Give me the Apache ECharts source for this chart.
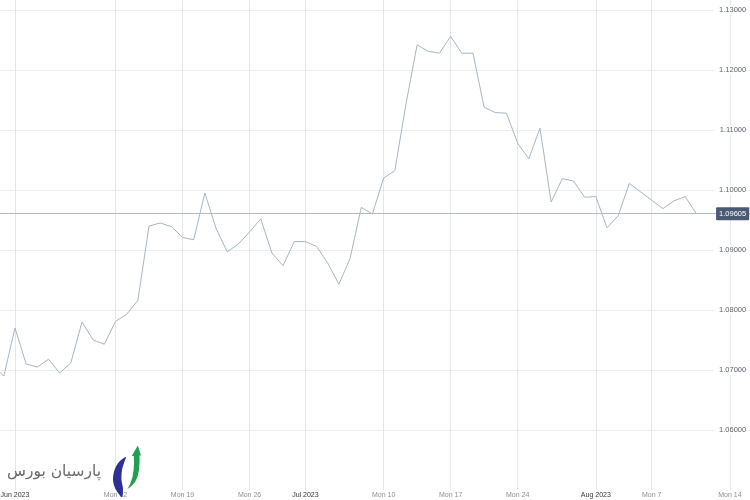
<!DOCTYPE html>
<html><head><meta charset="utf-8">
<script src="https://cdn.jsdelivr.net/npm/echarts@6/dist/echarts.min.js"></script>
<style>html,body{margin:0;padding:0;background:#fff}#c{width:750px;height:500px}</style>
</head><body><div id="c"></div>
<script>
// Trading sessions (Sun–Fri), then calendar days after the last quote
const dates = ['2023-05-30','2023-05-31','2023-06-01','2023-06-02','2023-06-04','2023-06-05','2023-06-06','2023-06-07','2023-06-08','2023-06-09','2023-06-11','2023-06-12','2023-06-13','2023-06-14','2023-06-15','2023-06-16','2023-06-18','2023-06-19','2023-06-20','2023-06-21','2023-06-22','2023-06-23','2023-06-25','2023-06-26','2023-06-27','2023-06-28','2023-06-29','2023-06-30','2023-07-02','2023-07-03','2023-07-04','2023-07-05','2023-07-06','2023-07-07','2023-07-09','2023-07-10','2023-07-11','2023-07-12','2023-07-13','2023-07-14','2023-07-16','2023-07-17','2023-07-18','2023-07-19','2023-07-20','2023-07-21','2023-07-23','2023-07-24','2023-07-25','2023-07-26','2023-07-27','2023-07-28','2023-07-30','2023-07-31','2023-08-01','2023-08-02','2023-08-03','2023-08-04','2023-08-06','2023-08-07','2023-08-08','2023-08-09','2023-08-10','2023-08-11','2023-08-12','2023-08-13','2023-08-14','2023-08-15','2023-08-16'];
const prices = [1.0707,1.0690,1.0770,1.0710,1.0705,1.0718,1.0695,1.0712,1.0780,1.0750,
  1.0743,1.0781,1.0793,1.0816,1.0940,1.0945,1.0939,1.0921,1.0917,1.0995,
  1.0936,1.0897,1.0910,1.0930,1.0952,1.0895,1.0874,1.0914,1.0914,1.0906,
  1.0878,1.0843,1.0886,1.0971,1.0960,1.1020,1.1032,1.1143,1.1242,1.1231,
  1.1228,1.1256,1.1228,1.1228,1.1138,1.1129,1.1128,1.1078,1.1052,1.1103,
  1.0980,1.1019,1.1015,1.0988,1.0989,1.0937,1.0957,1.1011,1.0997,1.0983,
  1.0969,1.0982,1.0989,1.09605];
const currentPrice = 1.09605;
const tickDates  = ['2023-06-01','2023-06-12','2023-06-19','2023-06-26','2023-07-02','2023-07-10','2023-07-17','2023-07-24','2023-08-01','2023-08-07','2023-08-14'];
const tickLabels = ['Jun 2023','Mon 12','Mon 19','Mon 26','Jul 2023','Mon 10','Mon 17','Mon 24','Aug 2023','Mon 7','Mon 14'];
const monthTicks = ['Jun 2023','Jul 2023','Aug 2023'];
const yMin = 1.05, yMax = 1.131667, yStep = 0.01;

const labelOf = {};
tickDates.forEach((d, i) => { labelOf[d] = tickLabels[i]; });
const isTick = (idx, val) => labelOf[val] !== undefined;
const FONT = 'Liberation Sans, Arial, sans-serif';

const chart = echarts.init(document.getElementById('c'), null, {renderer: 'canvas'});
chart.setOption({
  animation: false,
  backgroundColor: '#ffffff',
  grid: {left: -7.34, right: -2.2, top: 0, bottom: 10, containLabel: false, outerBoundsMode: 'none'},
  xAxis: {
    type: 'category',
    data: dates,
    boundaryGap: false,
    axisLine: {show: false},
    axisTick: {show: false},
    splitLine: {show: true, interval: isTick, lineStyle: {color: '#e4e7ea', width: 1}},
    axisLabel: {
      interval: isTick,
      margin: 2,
      fontFamily: FONT,
      fontSize: 7,
      formatter: v => {
        const t = labelOf[v];
        if (!t) return '';
        return monthTicks.includes(t) ? '{m|' + t + '}' : '{w|' + t + '}';
      },
      rich: {
        m: {color: '#2f3640', fontSize: 7, fontFamily: FONT},
        w: {color: '#8a8f96', fontSize: 7, fontFamily: FONT}
      }
    }
  },
  yAxis: {
    type: 'value',
    position: 'right',
    min: yMin, max: yMax, interval: yStep,
    axisLine: {show: false},
    axisTick: {show: false},
    splitLine: {show: true, showMinLine: false, showMaxLine: false, lineStyle: {color: '#eceef1', width: 1}},
    axisLabel: {
      inside: true,
      margin: 4,
      showMinLabel: false,
      showMaxLabel: false,
      color: '#5d636b',
      fontSize: 7.5,
      fontFamily: FONT,
      backgroundColor: '#ffffff',
      padding: [1, 2, 1, 5],
      formatter: v => v.toFixed(5)
    }
  },
  series: [{
    type: 'line',
    data: prices,
    symbol: 'none',
    lineStyle: {color: '#a4b6c4', width: 1},
    z: 3,
    markLine: {
      silent: true,
      symbol: 'none',
      precision: 5,
      lineStyle: {color: '#b4b9bf', width: 1, type: 'solid'},
      label: {
        show: true,
        position: 'insideEnd',
        distance: [3, 0],
        formatter: p => Number(p.value).toFixed(5),
        color: '#ffffff',
        backgroundColor: '#4b5975',
        fontSize: 7.5,
        fontFamily: FONT,
        padding: [3, 3, 2, 3],
        borderRadius: 1
      },
      data: [{yAxis: currentPrice}]
    }
  }],
  graphic: [
    {
      type: 'text', z: 100,
      style: {
        text: 'پارسیان بورس',
        x: 101, y: 472,
        align: 'right', verticalAlign: 'middle',
        font: '15.5px "DejaVu Sans"',
        fill: '#6a6a6a'
      }
    },
    {
      type: 'polygon', z: 100,
      shape: {smooth: 0.3, points: [[126,457],[119,462],[114.5,470],[113,480],[115.5,489],[122,497],[123,489],[121.5,480],[122,470],[124,463]]},
      style: {fill: '#2e3192'}
    },
    {
      type: 'polygon', z: 100,
      shape: {points: [[137.8,445.5],[141,455.5],[139.5,455.3],[139.6,462],[139,470],[137.5,477],[135,482],[131.5,486],[127.5,489],[130.5,483],[132.5,477],[133.6,470],[134,463],[133.8,456],[131.8,456]]},
      style: {fill: '#22a04f'}
    }
  ]
});
</script>
</body></html>
